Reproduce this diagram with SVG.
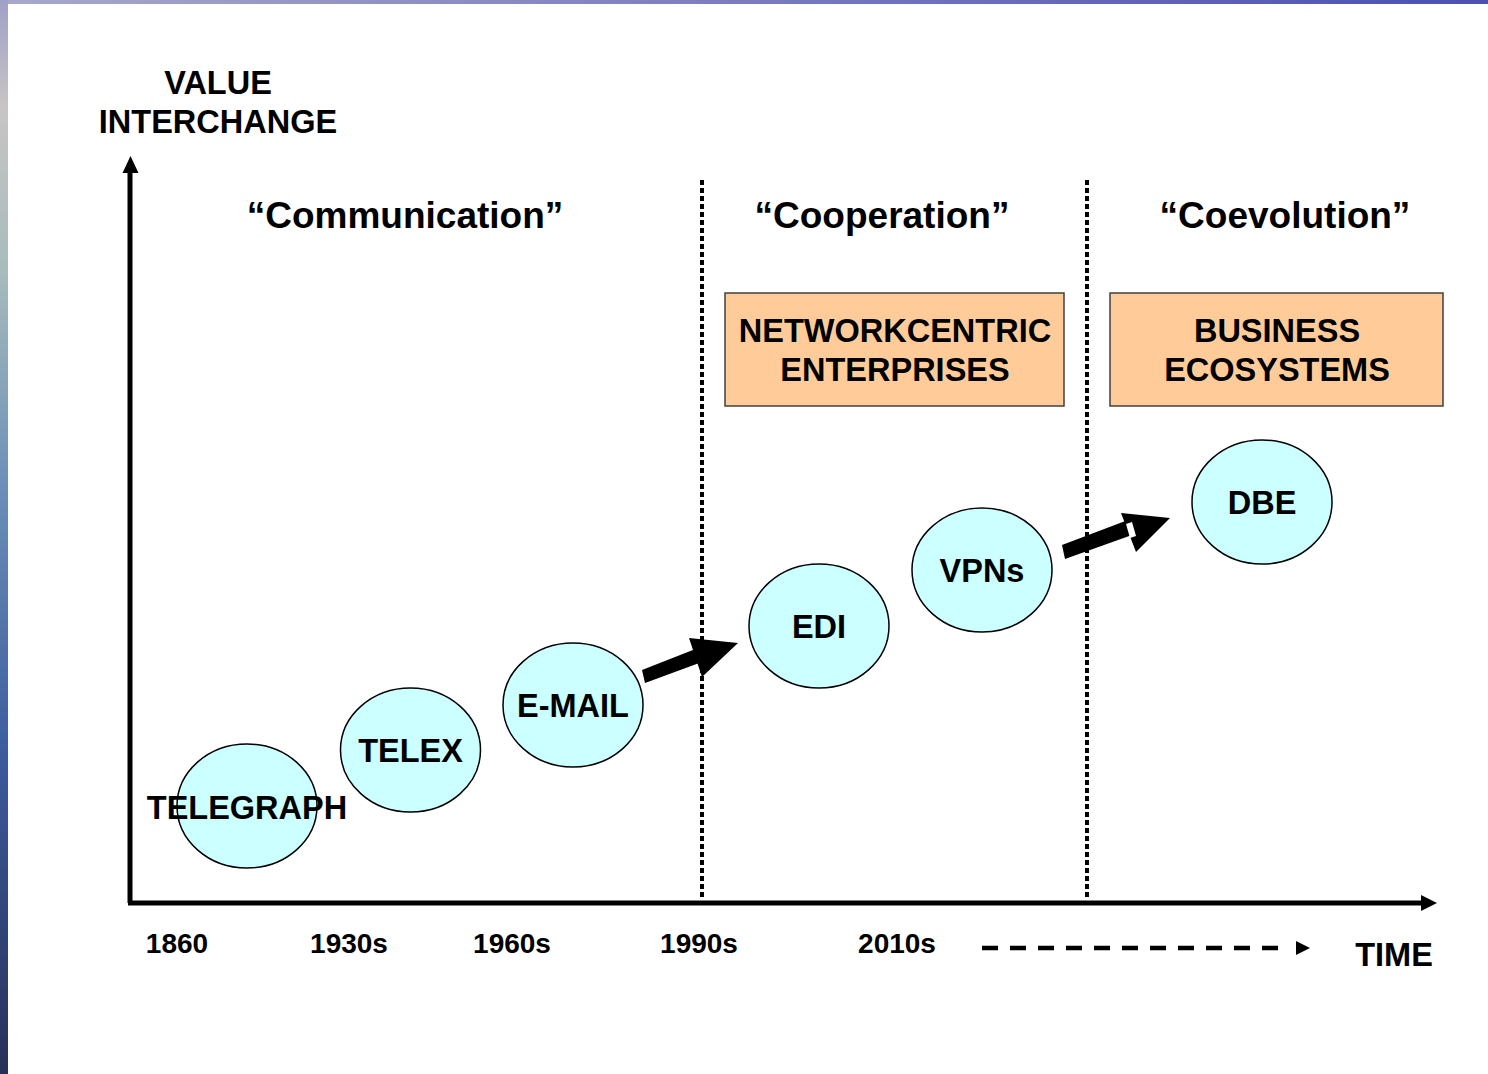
<svg xmlns="http://www.w3.org/2000/svg" width="1488" height="1074" viewBox="0 0 1488 1074">
<defs>
<linearGradient id="lg" x1="0" y1="0" x2="0" y2="1">
<stop offset="0" stop-color="#a0a0c8"/>
<stop offset="0.1" stop-color="#c8c4c4"/>
<stop offset="0.25" stop-color="#a8bcbc"/>
<stop offset="0.45" stop-color="#6c90b8"/>
<stop offset="0.7" stop-color="#3c5c9c"/>
<stop offset="1" stop-color="#283058"/>
</linearGradient>
<linearGradient id="tg" x1="0" y1="0" x2="1" y2="0">
<stop offset="0" stop-color="#a8a8cc"/>
<stop offset="1" stop-color="#4c50b0"/>
</linearGradient>
<style>
text{font-family:"Liberation Sans",Arial,sans-serif;font-weight:bold;fill:#000;text-anchor:middle}
.t32{font-size:32.5px}
.t36{font-size:37px}
.t28{font-size:28px}
.bub{fill:#ccffff;stroke:#000;stroke-width:1.5}
.box{fill:#ffcc99;stroke:#404040;stroke-width:1.5}
.dot{stroke:#000;stroke-width:4;stroke-dasharray:5 3;fill:none}
</style>
</defs>
<rect width="1488" height="1074" fill="#fff"/>
<rect x="0" y="0" width="1488" height="4" fill="url(#tg)"/>
<rect x="0" y="0" width="8" height="1074" fill="url(#lg)"/>

<g id="labels">
<text class="t32" x="218" y="94">VALUE</text>
<text class="t32" x="218" y="133">INTERCHANGE</text>
<text class="t36" x="405" y="228">“Communication”</text>
<text class="t36" x="882" y="228">“Cooperation”</text>
<text class="t36" x="1285" y="228">“Coevolution”</text>
<text class="t28" x="177" y="953">1860</text>
<text class="t28" x="349" y="953">1930s</text>
<text class="t28" x="512" y="953">1960s</text>
<text class="t28" x="699" y="953">1990s</text>
<text class="t28" x="897" y="953">2010s</text>
<text class="t32" x="1394" y="966">TIME</text>
</g>

<g id="connectors">
<line x1="130" y1="903" x2="130" y2="170" stroke="#000" stroke-width="5"/>
<polygon points="130.5,156 122.5,173 138.5,173" fill="#000"/>
<line x1="128" y1="903" x2="1423" y2="903" stroke="#000" stroke-width="5"/>
<polygon points="1437,903 1421,895 1421,911" fill="#000"/>
<line class="dot" x1="702" y1="180" x2="702" y2="900"/>
<line class="dot" x1="1087" y1="180" x2="1087" y2="900"/>
<line x1="982" y1="948" x2="1290" y2="948" stroke="#000" stroke-width="4.5" stroke-dasharray="16 12"/>
<polygon points="1310,948 1296,941 1296,955" fill="#000"/>
<polygon points="642,670 698,648 702,662 645,683" fill="#000"/>
<polygon points="689,638 738,643 702,677" fill="#000"/>
<polygon points="1062,545 1128,520 1132,535 1065,559" fill="#000"/>
<polygon points="1121,513 1170,518 1136,552" fill="#000"/>
<polygon points="1126,524 1132,522 1136,536 1130,538" fill="#fff"/>
</g>

<g id="box-networkcentric">
<rect class="box" x="725" y="293" width="339" height="113"/>
<text class="t32" x="895" y="342">NETWORKCENTRIC</text>
<text class="t32" x="895" y="381">ENTERPRISES</text>
</g>
<g id="box-business">
<rect class="box" x="1110" y="293" width="333" height="113"/>
<text class="t32" x="1277" y="342">BUSINESS</text>
<text class="t32" x="1277" y="381">ECOSYSTEMS</text>
</g>

<g id="node-telegraph">
<ellipse class="bub" cx="247" cy="806" rx="70" ry="62"/>
<text class="t32" x="247" y="819">TELEGRAPH</text>
</g>
<g id="node-telex">
<ellipse class="bub" cx="410.5" cy="750" rx="70" ry="62"/>
<text class="t32" x="410.5" y="762">TELEX</text>
</g>
<g id="node-email">
<ellipse class="bub" cx="573" cy="705" rx="70" ry="62"/>
<text class="t32" x="573" y="717">E-MAIL</text>
</g>
<g id="node-edi">
<ellipse class="bub" cx="819" cy="626" rx="70" ry="62"/>
<text class="t32" x="819" y="638">EDI</text>
</g>
<g id="node-vpns">
<ellipse class="bub" cx="982" cy="570" rx="70" ry="62"/>
<text class="t32" x="982" y="582">VPNs</text>
</g>
<g id="node-dbe">
<ellipse class="bub" cx="1262" cy="502" rx="70" ry="62"/>
<text class="t32" x="1262" y="514">DBE</text>
</g>
</svg>
